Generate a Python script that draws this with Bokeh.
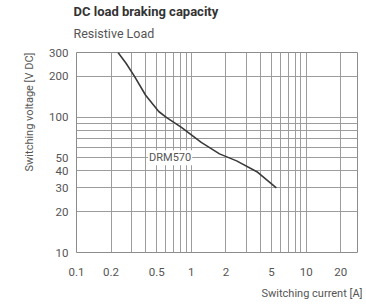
from bokeh.plotting import figure
from bokeh.models import FixedTicker, Label, Range1d, Title
from bokeh.embed import file_html
from bokeh.resources import INLINE

# data
current_a = [0.23, 0.27, 0.32, 0.40, 0.52, 0.61, 0.82, 1.22, 1.76, 2.48, 3.72, 5.5]
voltage_v = [300, 250, 200, 145, 110, 99, 84, 65, 53.5, 47.5, 39.5, 30]
x_ticks = [0.1, 0.2, 0.5, 1, 2, 5, 10, 20]
x_minor = [0.3, 0.4, 0.6, 0.7, 0.8, 0.9, 3, 4, 6, 7, 8, 9]
y_ticks = [10, 20, 30, 40, 50, 100, 200, 300]
y_minor = [60, 70, 80, 90]
series_name = "DRM570"
title_text = "DC load braking capacity"
subtitle_text = "Resistive Load"
x_title = "Switching current [A]"
y_title = "Switching voltage [V DC]"

FONT = "'Liberation Sans Narrow', 'Roboto', sans-serif"
GRID = "#9c9c9c"
TXT = "#555555"

p = figure(width=366, height=307, x_axis_type="log", y_axis_type="log",
           x_range=Range1d(0.1, 28), y_range=Range1d(10, 300),
           output_backend="svg", toolbar_location=None,
           min_border_left=76, min_border_right=9, min_border_top=52, min_border_bottom=55)
p.title.visible = False
p.outline_line_color = "#8c8c8c"
p.outline_line_width = 1

p.xaxis.ticker = FixedTicker(ticks=x_ticks, minor_ticks=x_minor)
p.yaxis.ticker = FixedTicker(ticks=y_ticks, minor_ticks=y_minor)
for ax in (p.xaxis, p.yaxis):
    ax.axis_line_color = None
    ax.major_tick_line_color = None
    ax.minor_tick_line_color = None
    ax.major_tick_out = 0
    ax.minor_tick_out = 0
    ax.axis_label_standoff = 0
    ax.major_label_text_font = FONT
    ax.major_label_text_font_size = "11.5px"
    ax.major_label_text_color = TXT
p.xaxis.major_label_overrides = {t: ("%g" % t) for t in x_ticks}
p.yaxis.major_label_overrides = {t: str(t) for t in y_ticks}
p.xaxis.major_label_standoff = 15
p.yaxis.major_label_standoff = 8

for g in (p.xgrid, p.ygrid):
    g.grid_line_color = GRID
    g.grid_line_width = 1
    g.minor_grid_line_color = GRID
    g.minor_grid_line_width = 1

p.line(current_a, voltage_v, line_color="#3a3a3a", line_width=1.6)

p.add_layout(Label(x=0.42, y=50, text=series_name, text_baseline="middle",
                   text_font=FONT, text_font_size="11px", text_color=TXT,
                   background_fill_color="white", padding=1))

p.add_layout(Title(text=subtitle_text, align="left", text_font=FONT, text_font_size="12.5px",
                   text_font_style="normal", text_color=TXT, offset=-3, standoff=24), "above")
p.add_layout(Title(text=title_text, align="left", text_font=FONT, text_font_size="13px",
                   text_font_style="bold", text_color="#333333", offset=-3, standoff=-14), "above")
p.add_layout(Title(text=x_title, align="right", text_font=FONT, text_font_size="11px",
                   text_font_style="normal", text_color=TXT, offset=-5, standoff=13), "below")
p.add_layout(Title(text=y_title, align="right", text_font=FONT, text_font_size="11px",
                   text_font_style="normal", text_color=TXT, standoff=22), "left")

open("out.html", "w").write(file_html(p, INLINE))
